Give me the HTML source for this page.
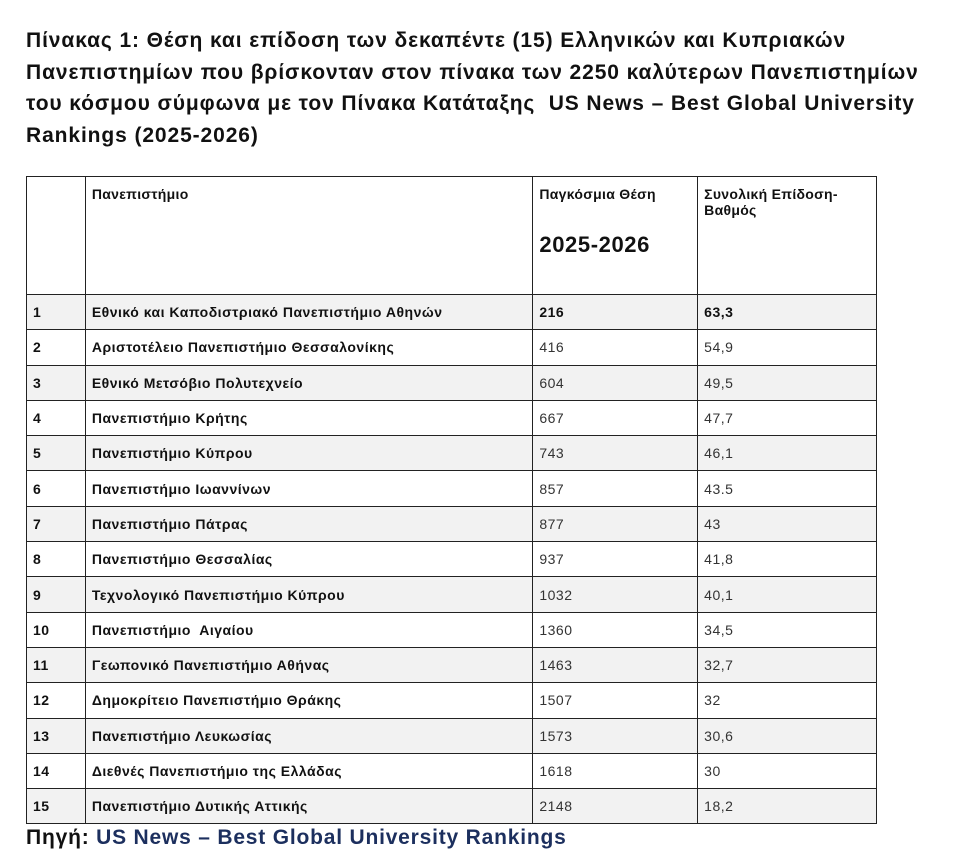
<!DOCTYPE html>
<html><head><meta charset="utf-8"><style>
body{margin:0;background:#fff;width:957px;height:868px;overflow:hidden;font-family:"Liberation Sans","DejaVu Sans",sans-serif;color:#111}
h1{position:absolute;left:26px;top:25px;margin:0;white-space:nowrap;font-size:21px;line-height:31.7px;font-weight:bold;letter-spacing:0.9px}
table{position:absolute;left:26px;top:176px;border-collapse:collapse;width:851px;font-size:14px;letter-spacing:0.5px}
td{border:1px solid #222;padding:0 6px;height:34.3px;vertical-align:middle;white-space:nowrap}
tr.h td{height:108px;vertical-align:top;padding-top:9px;padding-bottom:0;font-weight:bold;letter-spacing:0.3px}
tr.g td{background:#f2f2f2}
td.n{font-weight:bold}
td.v{color:#333}
.big{font-size:22px;display:block;margin-top:30px;letter-spacing:0.6px}
.src{position:absolute;left:26px;top:826px;font-size:21px;font-weight:bold;letter-spacing:0.8px}
.src span{color:#1c2f5e}
</style></head><body>
<h1>Πίνακας 1: Θέση και επίδοση των δεκαπέντε (15) Ελληνικών και Κυπριακών<br>Πανεπιστημίων που βρίσκονταν στον πίνακα των 2250 καλύτερων Πανεπιστημίων<br>του κόσμου σύμφωνα με τον Πίνακα Κατάταξης&nbsp; US News – Best Global University<br>Rankings (2025-2026)</h1>
<table>
<colgroup><col style="width:59px"><col style="width:448px"><col style="width:165px"><col style="width:179px"></colgroup>
<tr class="h"><td></td><td>Πανεπιστήμιο</td><td>Παγκόσμια Θέση<span class="big">2025-2026</span></td><td>Συνολική Επίδοση-<br>Βαθμός</td></tr>
<tr class="g"><td class="n">1</td><td class="n">Εθνικό και Καποδιστριακό Πανεπιστήμιο Αθηνών</td><td class="n">216</td><td class="n">63,3</td></tr>
<tr><td class="n">2</td><td class="n">Αριστοτέλειο Πανεπιστήμιο Θεσσαλονίκης</td><td class="v">416</td><td class="v">54,9</td></tr>
<tr class="g"><td class="n">3</td><td class="n">Εθνικό Μετσόβιο Πολυτεχνείο</td><td class="v">604</td><td class="v">49,5</td></tr>
<tr><td class="n">4</td><td class="n">Πανεπιστήμιο Κρήτης</td><td class="v">667</td><td class="v">47,7</td></tr>
<tr class="g"><td class="n">5</td><td class="n">Πανεπιστήμιο Κύπρου</td><td class="v">743</td><td class="v">46,1</td></tr>
<tr><td class="n">6</td><td class="n">Πανεπιστήμιο Ιωαννίνων</td><td class="v">857</td><td class="v">43.5</td></tr>
<tr class="g"><td class="n">7</td><td class="n">Πανεπιστήμιο Πάτρας</td><td class="v">877</td><td class="v">43</td></tr>
<tr><td class="n">8</td><td class="n">Πανεπιστήμιο Θεσσαλίας</td><td class="v">937</td><td class="v">41,8</td></tr>
<tr class="g"><td class="n">9</td><td class="n">Τεχνολογικό Πανεπιστήμιο Κύπρου</td><td class="v">1032</td><td class="v">40,1</td></tr>
<tr><td class="n">10</td><td class="n">Πανεπιστήμιο&nbsp; Αιγαίου</td><td class="v">1360</td><td class="v">34,5</td></tr>
<tr class="g"><td class="n">11</td><td class="n">Γεωπονικό Πανεπιστήμιο Αθήνας</td><td class="v">1463</td><td class="v">32,7</td></tr>
<tr><td class="n">12</td><td class="n">Δημοκρίτειο Πανεπιστήμιο Θράκης</td><td class="v">1507</td><td class="v">32</td></tr>
<tr class="g"><td class="n">13</td><td class="n">Πανεπιστήμιο Λευκωσίας</td><td class="v">1573</td><td class="v">30,6</td></tr>
<tr><td class="n">14</td><td class="n">Διεθνές Πανεπιστήμιο της Ελλάδας</td><td class="v">1618</td><td class="v">30</td></tr>
<tr class="g"><td class="n">15</td><td class="n">Πανεπιστήμιο Δυτικής Αττικής</td><td class="v">2148</td><td class="v">18,2</td></tr>
</table>
<div class="src">Πηγή: <span>US News – Best Global University Rankings</span></div>
</body></html>
